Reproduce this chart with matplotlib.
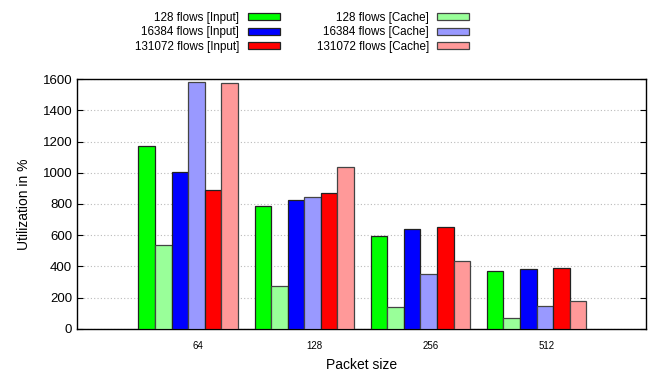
import numpy as np
import matplotlib.pyplot as plt

plt.rcParams['font.family'] = ['Liberation Sans', 'DejaVu Sans']

# Packet sizes (groups) and utilization values
packet_sizes = ['64', '128', '256', '512']
input_128 = [1170, 787, 595, 370]
cache_128 = [535, 276, 143, 73]
input_16384 = [1003, 826, 637, 383]
cache_16384 = [1581, 845, 349, 148]
input_131072 = [888, 868, 650, 389]
cache_131072 = [1574, 1037, 434, 182]

series = [
    ('128 flows [Input]', input_128, '#00ff00', '#222222'),
    ('128 flows [Cache]', cache_128, '#99ff99', '#444444'),
    ('16384 flows [Input]', input_16384, '#0000ff', '#222222'),
    ('16384 flows [Cache]', cache_16384, '#9999ff', '#444444'),
    ('131072 flows [Input]', input_131072, '#ff0000', '#222222'),
    ('131072 flows [Cache]', cache_131072, '#ff9999', '#444444'),
]

fig = plt.figure(figsize=(6.57, 3.75), dpi=100)
ax = fig.add_axes([0.1172, 0.1227, 0.8661, 0.6666])

group_pos = np.arange(len(packet_sizes)) * 7
bars = {}
for i, (label, vals, color, edge) in enumerate(series):
    bars[label] = ax.bar(group_pos + i + 0.5, vals, width=1.0, color=color,
                         edgecolor=edge, linewidth=0.9, label=label, zorder=3)

ax.set_xlim(-3.7, 30.6)
ax.set_ylim(0, 1600)
ax.set_yticks(range(0, 1601, 200))
ax.set_xticks(group_pos + 3.6)
ax.set_xticklabels(packet_sizes, fontsize=7)
ax.tick_params(axis='x', length=0, pad=9)
ax.tick_params(axis='y', direction='in', length=4, right=True, labelsize=9.5, width=0.8)
ax.grid(axis='y', linestyle=(0, (1, 2)), color='#bbbbbb', linewidth=0.8, zorder=0)
for s in ax.spines.values():
    s.set_linewidth(1.0)

ax.set_xlabel('Packet size', fontsize=10, labelpad=5)
ax.set_ylabel('Utilization in %', fontsize=10, labelpad=8)

order = ['128 flows [Input]', '16384 flows [Input]', '131072 flows [Input]',
         '128 flows [Cache]', '16384 flows [Cache]', '131072 flows [Cache]']
fig.legend([bars[k] for k in order], order, ncol=2, markerfirst=False,
           loc='upper center', bbox_to_anchor=(0.46, 0.99), frameon=False,
           fontsize=8.4, handlelength=2.75, handleheight=0.55,
           columnspacing=3.2, labelspacing=0.2, handletextpad=0.7,
           borderaxespad=0.3)

fig.savefig('out.png', dpi=100)
